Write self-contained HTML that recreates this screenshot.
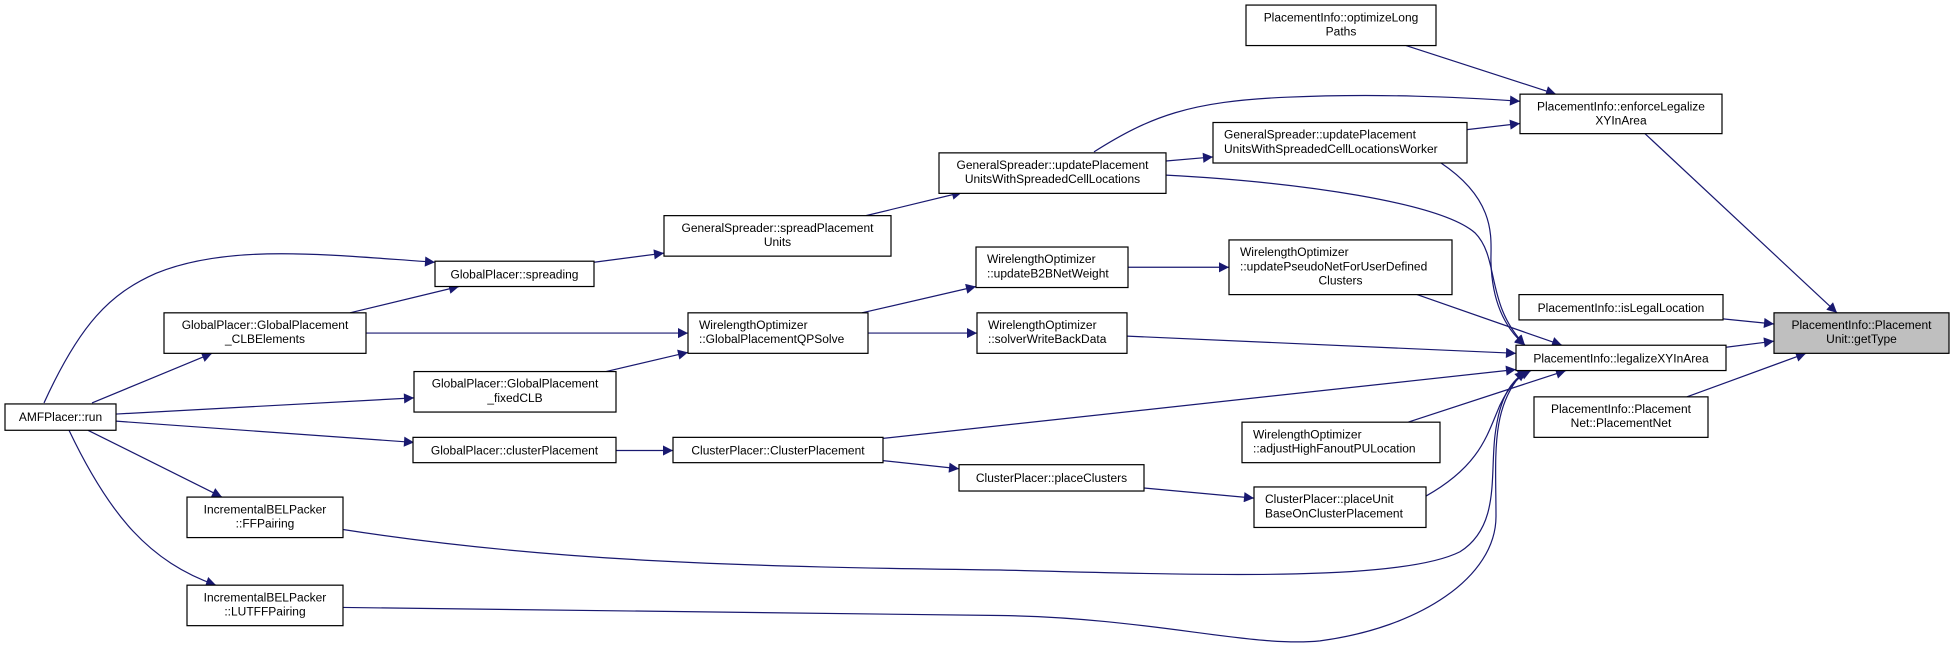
<!DOCTYPE html>
<html><head><meta charset="utf-8"><style>
html,body{margin:0;padding:0;background:#fff;}
svg{display:block;}
text{font-family:"Liberation Sans",sans-serif;font-size:12px;fill:#000;}
.n{fill:#fff;stroke:#000;stroke-width:1.2;}
.e{fill:none;stroke:#191970;stroke-width:1.2;}
</style></head><body>
<svg width="1955" height="650" viewBox="0 0 1955 650" xmlns="http://www.w3.org/2000/svg">
<defs>
<marker id="a" viewBox="0 0 10 10" refX="10" refY="5" markerWidth="12" markerHeight="10" markerUnits="userSpaceOnUse" orient="auto">
<path d="M0,0 L10,5 L0,10 z" fill="#191970"/>
</marker>
</defs>
<g transform="scale(1,1.0124)">
<g class="e" marker-end="url(#a)">
<path d="M44,398 C80,320 110,290 156,270 C230,240 330,252 435,259"/>
<path d="M92,398 L212,349"/>
<path d="M116,409 L414,393"/>
<path d="M116,416 L414,437"/>
<path d="M88,425 L222,491"/>
<path d="M69,425 C110,510 150,555 216,578"/>
<path d="M350,309 L459,283"/>
<path d="M366,329 L688,329"/>
<path d="M594,259 L664,250"/>
<path d="M866,213 L962,190"/>
<path d="M606,367 L688,348"/>
<path d="M862,309 L976,283"/>
<path d="M868,329 L977,329"/>
<path d="M616,445 L673,445"/>
<path d="M883,455 L959,463"/>
<path d="M883,433 L1516,365"/>
<path d="M1128,264 L1229,264"/>
<path d="M1127,332 L1516,349"/>
<path d="M1144,482 L1254,492"/>
<path d="M1166,159 L1213,155"/>
<path d="M1094,150 C1150,115 1190,100 1287,96 C1380,92 1460,96 1520,100"/>
<path d="M1166,173 C1300,180 1440,200 1475,230 C1500,255 1485,300 1525,341"/>
<path d="M1467,128 L1520,122"/>
<path d="M1441,161 C1500,200 1490,240 1491,260 C1492,290 1500,320 1525,341"/>
<path d="M1406,45 L1556,93"/>
<path d="M1645,132 L1837,309"/>
<path d="M1417,291 L1562,341"/>
<path d="M1723,315 L1774,320"/>
<path d="M1726,343 L1774,337"/>
<path d="M1687,392 L1806,349"/>
<path d="M1408,417 L1566,366"/>
<path d="M1426,490 C1480,460 1487,430 1500,400 C1510,380 1518,372 1531,366"/>
<path d="M343,523 C550,555 750,560 1000,563 C1200,568 1400,575 1460,545 C1500,520 1490,470 1495,430 C1500,390 1512,375 1528,366"/>
<path d="M343,600 C600,605 850,608 1000,608 C1150,610 1250,640 1320,633 C1420,620 1496,570 1496,510 C1496,450 1490,400 1525,366"/>
</g>
<rect class="n" x="5" y="399" width="111" height="26"/>
<text x="60.5" y="416" text-anchor="middle">AMFPlacer::run</text>

<rect class="n" x="164" y="309" width="202" height="40"/>
<text x="265" y="325" text-anchor="middle">GlobalPlacer::GlobalPlacement</text>
<text x="265" y="339" text-anchor="middle">_CLBElements</text>

<rect class="n" x="435" y="258" width="159" height="25"/>
<text x="514.5" y="275" text-anchor="middle">GlobalPlacer::spreading</text>

<rect class="n" x="664" y="213" width="227" height="40"/>
<text x="777.5" y="229" text-anchor="middle">GeneralSpreader::spreadPlacement</text>
<text x="777.5" y="243" text-anchor="middle">Units</text>

<rect class="n" x="939" y="151" width="227" height="40"/>
<text x="1052.5" y="167" text-anchor="middle">GeneralSpreader::updatePlacement</text>
<text x="1052.5" y="181" text-anchor="middle">UnitsWithSpreadedCellLocations</text>

<rect class="n" x="688" y="309" width="180" height="40"/>
<text x="699" y="325">WirelengthOptimizer</text>
<text x="699" y="339">::GlobalPlacementQPSolve</text>

<rect class="n" x="414" y="367" width="202" height="40"/>
<text x="515" y="383" text-anchor="middle">GlobalPlacer::GlobalPlacement</text>
<text x="515" y="397" text-anchor="middle">_fixedCLB</text>

<rect class="n" x="413" y="432" width="203" height="25"/>
<text x="514.5" y="449" text-anchor="middle">GlobalPlacer::clusterPlacement</text>

<rect class="n" x="673" y="432" width="210" height="25"/>
<text x="778" y="449" text-anchor="middle">ClusterPlacer::ClusterPlacement</text>

<rect class="n" x="959" y="459" width="185" height="26"/>
<text x="1051.5" y="476" text-anchor="middle">ClusterPlacer::placeClusters</text>

<rect class="n" x="187" y="491" width="156" height="40"/>
<text x="265" y="507" text-anchor="middle">IncrementalBELPacker</text>
<text x="265" y="521" text-anchor="middle">::FFPairing</text>

<rect class="n" x="187" y="578" width="156" height="40"/>
<text x="265" y="594" text-anchor="middle">IncrementalBELPacker</text>
<text x="265" y="608" text-anchor="middle">::LUTFFPairing</text>

<rect class="n" x="976" y="244" width="152" height="40"/>
<text x="987" y="260">WirelengthOptimizer</text>
<text x="987" y="274">::updateB2BNetWeight</text>

<rect class="n" x="977" y="309" width="150" height="40"/>
<text x="988" y="325">WirelengthOptimizer</text>
<text x="988" y="339">::solverWriteBackData</text>

<rect class="n" x="1246" y="5" width="190" height="40"/>
<text x="1341" y="21" text-anchor="middle">PlacementInfo::optimizeLong</text>
<text x="1341" y="35" text-anchor="middle">Paths</text>

<rect class="n" x="1520" y="93" width="202" height="39"/>
<text x="1621" y="109" text-anchor="middle">PlacementInfo::enforceLegalize</text>
<text x="1621" y="123" text-anchor="middle">XYInArea</text>

<rect class="n" x="1213" y="121" width="254" height="40"/>
<text x="1224" y="137">GeneralSpreader::updatePlacement</text>
<text x="1224" y="151">UnitsWithSpreadedCellLocationsWorker</text>

<rect class="n" x="1229" y="237" width="223" height="54"/>
<text x="1240" y="253">WirelengthOptimizer</text>
<text x="1240" y="267">::updatePseudoNetForUserDefined</text>
<text x="1340.5" y="281" text-anchor="middle">Clusters</text>

<rect class="n" x="1519" y="291" width="204" height="25"/>
<text x="1621" y="308" text-anchor="middle">PlacementInfo::isLegalLocation</text>

<rect x="1774" y="309" width="175" height="40" fill="#bfbfbf" stroke="#000" stroke-width="1.2"/>
<text x="1861.5" y="325" text-anchor="middle">PlacementInfo::Placement</text>
<text x="1861.5" y="339" text-anchor="middle">Unit::getType</text>

<rect class="n" x="1516" y="341" width="210" height="25"/>
<text x="1621" y="358" text-anchor="middle">PlacementInfo::legalizeXYInArea</text>

<rect class="n" x="1534" y="392" width="174" height="40"/>
<text x="1621" y="408" text-anchor="middle">PlacementInfo::Placement</text>
<text x="1621" y="422" text-anchor="middle">Net::PlacementNet</text>

<rect class="n" x="1242" y="417" width="198" height="40"/>
<text x="1253" y="433">WirelengthOptimizer</text>
<text x="1253" y="447">::adjustHighFanoutPULocation</text>

<rect class="n" x="1254" y="481" width="172" height="40"/>
<text x="1265" y="497">ClusterPlacer::placeUnit</text>
<text x="1265" y="511">BaseOnClusterPlacement</text>
</g>
</svg>
</body></html>
